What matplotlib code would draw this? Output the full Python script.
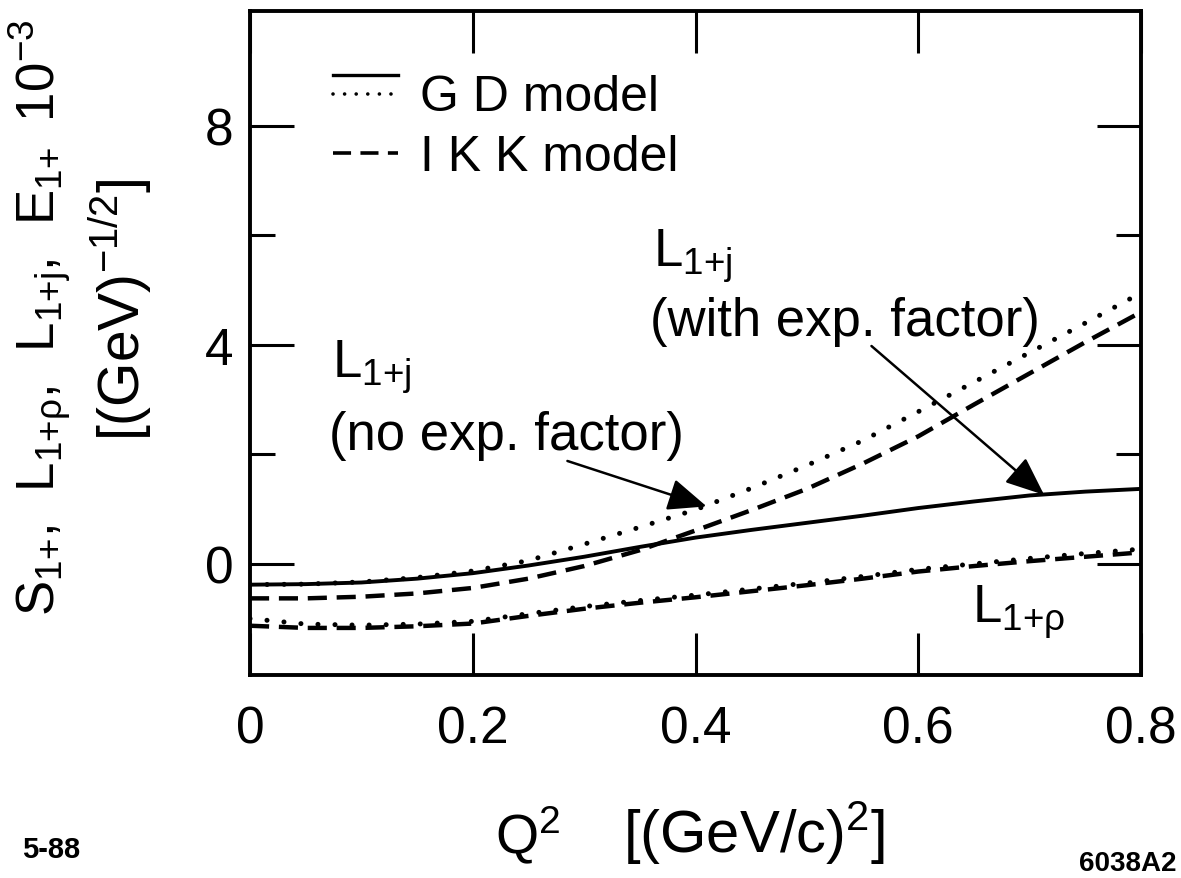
import matplotlib
matplotlib.use("Agg")
import matplotlib.pyplot as plt
from matplotlib.lines import Line2D
from matplotlib.legend_handler import HandlerBase
from matplotlib.ticker import NullLocator

# ---------------- data ----------------
q2 = [0.0, 0.05, 0.10, 0.15, 0.20, 0.25, 0.30, 0.35, 0.40,
      0.45, 0.50, 0.55, 0.60, 0.65, 0.70, 0.75, 0.80]

# L1+j, GD model, with exp. factor (solid)
gd_l1j_exp = [-0.38, -0.37, -0.34, -0.27, -0.17, -0.03, 0.13, 0.31, 0.48,
              0.62, 0.75, 0.88, 1.02, 1.14, 1.25, 1.32, 1.37]
# L1+j, GD model, no exp. factor (dotted)
gd_l1j_noexp = [-0.38, -0.37, -0.33, -0.25, -0.13, 0.06, 0.36, 0.67, 0.99,
                1.38, 1.80, 2.25, 2.78, 3.32, 3.86, 4.40, 4.95]
# L1+j, IKK model (dashed)
ikk_l1j = [-0.63, -0.63, -0.60, -0.54, -0.44, -0.27, -0.04, 0.25, 0.61,
           0.98, 1.37, 1.83, 2.33, 2.91, 3.48, 4.05, 4.60]
# L1+rho, GD model (dotted)
gd_l1rho = [-1.00, -1.10, -1.12, -1.10, -1.05, -0.91, -0.78, -0.67, -0.57,
            -0.46, -0.35, -0.23, -0.10, 0.00, 0.10, 0.19, 0.27]
# L1+rho, IKK model (dashed)
ikk_l1rho = [-1.13, -1.17, -1.17, -1.14, -1.09, -0.95, -0.82, -0.71, -0.61,
             -0.50, -0.39, -0.27, -0.14, -0.04, 0.05, 0.13, 0.21]

xticks = [0, 0.2, 0.4, 0.6, 0.8]
xticklabels = ["0", "0.2", "0.4", "0.6", "0.8"]
yticks_major = [0, 4, 8]
yticklabels = ["0", "4", "8"]
yticks_minor = [2, 6]
legend_labels = ["G D model", "I K K model"]

# ---------------- style ----------------
plt.rcParams["font.family"] = ["Liberation Sans", "DejaVu Sans"]
plt.rcParams["mathtext.fontset"] = "custom"
plt.rcParams["mathtext.rm"] = "Liberation Sans"
plt.rcParams["mathtext.it"] = "Liberation Sans:italic"
plt.rcParams["mathtext.bf"] = "Liberation Sans:bold"

W, H = 1181, 879
fig = plt.figure(figsize=(W / 100, H / 100), dpi=100)
ax = fig.add_axes([250 / W, 1 - 676 / H, 891 / W, 664 / H])

solid_kw = dict(color="black", lw=2.8, ls="-", solid_capstyle="butt")
dot_kw = dict(color="black", lw=3.6, ls=(0, (0.01, 3.4)), dash_capstyle="round")
dash_kw = dict(color="black", lw=3.2, ls=(0, (4.3, 2.2)), dash_capstyle="butt")

ax.plot(q2, gd_l1j_exp, **solid_kw)
ax.plot(q2, gd_l1j_noexp, **dot_kw)
ax.plot(q2, ikk_l1j, **dash_kw)
ax.plot(q2, gd_l1rho, **dot_kw)
ax.plot(q2, ikk_l1rho, **dash_kw)

ax.set_xlim(0, 0.8)
ax.set_ylim(-2.03, 10.1)

for sp in ax.spines.values():
    sp.set_linewidth(2.8)

ax.set_xticks(xticks)
ax.set_xticklabels(xticklabels)
ax.xaxis.set_minor_locator(NullLocator())
ax.set_yticks(yticks_major)
ax.set_yticklabels(yticklabels)
ax.set_yticks(yticks_minor, minor=True)

ax.tick_params(axis="x", which="major", direction="in", length=30, width=2.2,
               top=True, bottom=True, labelsize=37, pad=21)
ax.tick_params(axis="y", which="major", direction="in", length=32, width=2.2,
               left=True, right=True, labelsize=37, pad=12)
ax.tick_params(axis="y", which="minor", direction="in", length=18, width=2.2,
               left=True, right=True)

# ---------------- legend ----------------
class StackedHandler(HandlerBase):
    def create_artists(self, legend, orig_handle, xdescent, ydescent,
                       width, height, fontsize, trans):
        arts = []
        n = len(orig_handle)
        for i, h in enumerate(orig_handle):
            y = height / 2 - ydescent + (0.5 * (n - 1) - i) * 14 + 6
            ln = Line2D([-xdescent, width - xdescent], [y, y])
            ln.update_from(h)
            ln.set_transform(trans)
            arts.append(ln)
        return arts

leg_solid = Line2D([], [], color="black", lw=2.4, ls="-")
leg_dot = Line2D([], [], color="black", lw=2.6, ls=(0, (0.01, 3.2)),
                 dash_capstyle="round")
leg_dash = Line2D([], [], color="black", lw=2.6, ls=(0, (5.0, 2.6)))

ax.legend(handles=[(leg_solid, leg_dot), leg_dash], labels=legend_labels,
          handler_map={tuple: StackedHandler()},
          loc="upper left", bbox_to_anchor=(0.093, 0.905), frameon=False,
          fontsize=36, handlelength=1.3, handletextpad=0.45,
          labelspacing=0.28, borderpad=0, borderaxespad=0)

# ---------------- annotations ----------------
ann_fs = 38
ax.text(0.362, 5.44, r"$\mathregular{L_{1{+}j}}$", fontsize=ann_fs,
        ha="left", va="baseline")
ax.text(0.359, 4.18, "(with exp. factor)", fontsize=ann_fs,
        ha="left", va="baseline")
ax.text(0.0736, 3.42, r"$\mathregular{L_{1{+}j}}$", fontsize=ann_fs,
        ha="left", va="baseline")
ax.text(0.071, 2.10, "(no exp. factor)", fontsize=ann_fs,
        ha="left", va="baseline")
ax.text(0.648, -1.06, r"$\mathregular{L_{1{+}\rho}}$", fontsize=ann_fs,
        ha="left", va="baseline")

arrow_kw = dict(arrowstyle="-|>,head_length=0.6,head_width=0.25",
                mutation_scale=40, lw=1.8, color="black",
                shrinkA=0, shrinkB=0)
ax.annotate("", xy=(0.410, 1.05), xytext=(0.285, 1.88), arrowprops=arrow_kw)
ax.annotate("", xy=(0.713, 1.26), xytext=(0.558, 3.98), arrowprops=arrow_kw)

# ---------------- axis labels ----------------
fig.text(40 / W, 1 - 318 / H,
         r"$\mathregular{S_{1{+}},\,\ L_{1{+}\rho},\,\ L_{1{+}j},\,\ E_{1{+}}\;\;10^{-3}}$",
         rotation=90, fontsize=38, ha="center", va="center")
fig.text(120 / W, 1 - 310 / H, r"$\mathregular{[(GeV)^{-1/2}]}$",
         rotation=90, fontsize=41, ha="center", va="center")

fig.text(495 / W, 1 - 853 / H, r"$\mathregular{Q^{2}}$",
         fontsize=40, ha="left", va="baseline")
fig.text(623 / W, 1 - 853 / H, r"$\mathregular{[(GeV/c)^{2}]}$",
         fontsize=43, ha="left", va="baseline")

fig.text(22 / W, 1 - 858 / H, "5-88", fontsize=21, fontweight="bold",
         ha="left", va="baseline")
fig.text(1176 / W, 1 - 871 / H, "6038A2", fontsize=20, fontweight="bold",
         ha="right", va="baseline")

fig.savefig("out.png", dpi=100)
